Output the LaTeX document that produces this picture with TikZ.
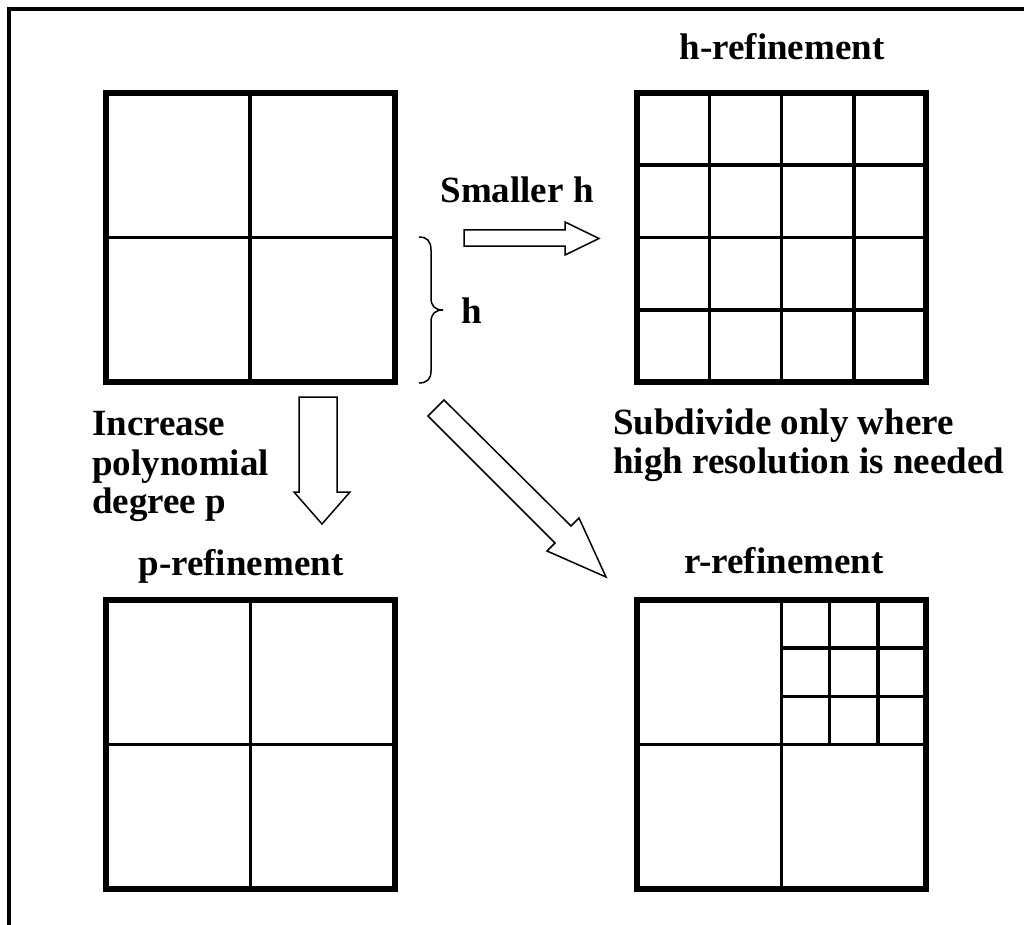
\documentclass[tikz,border=0pt]{standalone}
\usepackage{fontspec}
\setmainfont{Liberation Serif}
\usetikzlibrary{calc}
\begin{document}
\begin{tikzpicture}[x=1pt,y=-1pt,
  gridbox/.style={draw,line width=6pt,minimum width=289pt,minimum height=289pt,inner sep=0pt,outer sep=0pt},
  gridline/.style={line width=3.5pt},
  blockarrow/.style={draw,line width=1.5pt,fill=white,line join=miter},
  bracestyle/.style={line width=1.5pt},
  lbl/.style={font=\fontsize{37}{41}\selectfont\bfseries,inner sep=0pt}]
\useasboundingbox (0,0) rectangle (1024,925);
% frame
\draw[line width=3.5pt] (9,925) -- (9,9) -- (1024,9);

% boxes
\node[gridbox] (tl) at (250,237.5) {};
\node[gridbox] (h) at (781.5,237.5) {};
\node[gridbox] (p) at (250.5,744.5) {};
\node[gridbox] (r) at (781.5,744.5) {};

% top-left 2x2
\draw[gridline] (tl.north) -- (tl.south);
\draw[gridline] (tl.west) -- (tl.east);
% p 2x2
\draw[gridline] (p.north) -- (p.south);
\draw[gridline] (p.west) -- (p.east);
% h 4x4
\foreach \f in {0.25,0.5,0.75}{
  \draw[gridline] ($(h.north west)!\f!(h.north east)$) -- ($(h.south west)!\f!(h.south east)$);
  \draw[gridline] ($(h.north west)!\f!(h.south west)$) -- ($(h.north east)!\f!(h.south east)$);
}
% r
\draw[gridline] (r.north) -- (r.south);
\draw[gridline] (r.west) -- (r.east);
\foreach \f in {0.3333,0.6667}{
  \draw[gridline] ($(r.north)!\f!(r.north east)$) -- ($(r.center)!\f!(r.east)$);
  \draw[gridline] ($(r.north)!\f!(r.center)$) -- ($(r.north east)!\f!(r.east)$);
}
% redraw borders on top
\foreach \b in {tl,h,p,r}{
  \draw[line width=6pt] (\b.north west) rectangle (\b.south east);
}

% labels
\node[lbl,anchor=base] (ht) at (782,60) {h-refinement};
\node[lbl,anchor=base] (pt) at (241,575) {p-refinement};
\node[lbl,anchor=base] (rt) at (784,573) {r-refinement};
\node[lbl,anchor=base] (sm) at (517,203) {Smaller h};
\node[lbl,anchor=base] (hl) at (472,323) {h};
\node[lbl,anchor=base west] (inc1) at (92,435) {Increase};
\node[lbl,anchor=base west] (inc2) at (92,475) {polynomial};
\node[lbl,anchor=base west] (inc3) at (92,513) {degree p};
\node[lbl,anchor=base west] (sub1) at (613,434) {Subdivide only where};
\node[lbl,anchor=base west] (sub2) at (613,473) {high resolution is needed};

% brace
\draw[bracestyle] (419,237) .. controls (427,237) and (431,241) .. (431,250) -- (431,298)
  .. controls (431,306) and (435,310) .. (443,310)
  .. controls (435,310) and (431,314) .. (431,322) -- (431,371)
  .. controls (431,379) and (427,383) .. (419,383);

% block arrows
\draw[blockarrow] (464,230) -- (565,230) -- (565,222) -- (599,238.5) -- (565,255) -- (565,246) -- (464,246) -- cycle;
\draw[blockarrow] (299,397) -- (337,397) -- (337,492) -- (350,492) -- (322,524) -- (294,492) -- (299,492) -- cycle;
\draw[blockarrow] (428,416) -- (444,400) -- (571,526) -- (579,518) -- (606,577) -- (547,551) -- (555,543) -- cycle;
\end{tikzpicture}
\end{document}
